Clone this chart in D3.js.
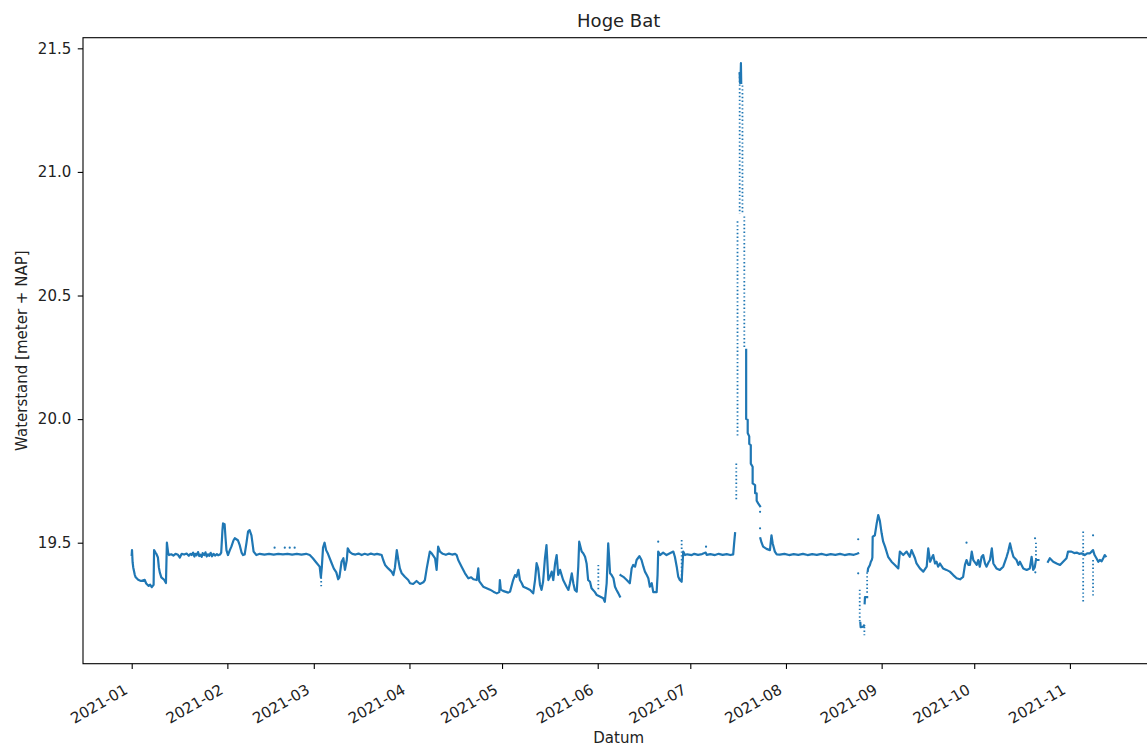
<!DOCTYPE html>
<html>
<head>
<meta charset="utf-8">
<script src="https://cdn.jsdelivr.net/npm/d3@7"></script>
<style>
  body { margin: 0; background: #fff; }
  svg { display: block; }
  text { font-family: "DejaVu Sans", sans-serif; fill: #222; }
</style>
</head>
<body>
<svg id="chart" width="1147" height="747"></svg>
<script>
// Waterstand Hoge Bat, 2021. Tijd in dagen sinds 2021-01-01 (UTC), stand in meter + NAP.
// null breekt de lijn (ontbrekende metingen).

const titel = "Hoge Bat";
const xLabel = "Datum";
const yLabel = "Waterstand [meter + NAP]";
const maandTicks = ["2021-01","2021-02","2021-03","2021-04","2021-05","2021-06","2021-07","2021-08","2021-09","2021-10","2021-11"];
const standTicks = [19.5, 20.0, 20.5, 21.0, 21.5];

const januari = [
  [0.0,19.45],[0.1,19.47],[0.3,19.42],[0.5,19.40],[1.0,19.37],[1.3,19.36],[2.1,19.35],[3.0,19.345],[4.2,19.35],
  [4.7,19.335],[5.5,19.325],[6.0,19.33],[6.5,19.32],[7.1,19.33],
  [7.25,19.47],[7.7,19.46],[8.0,19.455],[8.5,19.44],[8.8,19.40],[9.1,19.38],[9.6,19.36],[10.5,19.35],[11.1,19.337],
  [11.4,19.50],[11.8,19.46],[12.1,19.45],[12.8,19.453],[13.5,19.448],[14.2,19.455],[15.0,19.451],[15.6,19.44],
  [16.2,19.455],[17.0,19.452],[17.8,19.456],[18.5,19.447],[19.0,19.455],[19.4,19.45],[19.9,19.46],[20.3,19.444],
  [20.6,19.455],[21.0,19.449],[21.5,19.462],[21.9,19.446],[22.2,19.452],[22.7,19.443],[23.0,19.458],[23.5,19.45],
  [23.9,19.461],[24.3,19.444],[24.7,19.453],[25.1,19.447],[25.6,19.459],[26.0,19.445],[26.5,19.455],[27.0,19.448],
  [27.6,19.454],[28.0,19.449],[28.6,19.452]
];

const februari = [
  [29.0,19.46],[29.4,19.55],[29.6,19.578],[30.1,19.575],[30.4,19.52],[30.7,19.47],[31.2,19.45],[31.8,19.47],
  [32.3,19.484],[33.0,19.51],[33.4,19.518],[34.4,19.51],[35.0,19.49],[35.6,19.46],[36.1,19.45],[36.6,19.452],
  [37.2,19.50],[37.7,19.545],[38.2,19.551],[38.8,19.53],[39.5,19.464],[40.4,19.45],
  [41.5,19.455],[43,19.452],[44.5,19.455],[46,19.452],[47.5,19.455],[49,19.453],[50.5,19.455],[52,19.452],
  [53.5,19.455],[55,19.452],[56.5,19.455],[57.7,19.45]
];

const maart = [
  [58.7,19.437],[59.8,19.42],[60.9,19.403],[61.3,19.36],[61.6,19.40],[62.0,19.48],[62.5,19.50],[63.0,19.47],
  [63.6,19.455],[64.7,19.42],[65.5,19.395],[66.3,19.38],[66.9,19.352],[67.3,19.36],[68.0,19.423],[68.6,19.437],
  [69.1,19.39],[69.7,19.43],[70.0,19.477],[70.7,19.462],[71.5,19.455],[72.5,19.452],[73.5,19.456],[74.5,19.45],
  [75.5,19.455],[76.5,19.451],[77.5,19.456],[78.5,19.452],[79.5,19.455],[80.5,19.452],[81.0,19.45],
  [81.5,19.43],[82.1,19.41],[83.1,19.396],[84.2,19.383],[84.8,19.369],[85.3,19.40],[85.9,19.47],[86.4,19.43],
  [86.9,19.396],[87.5,19.376],[88.5,19.362],[89.6,19.349]
];

const april = [
  [90.2,19.336],[91.2,19.333],[92.3,19.345],[93.4,19.333],[94.5,19.34],[95.0,19.349],[95.6,19.396],[96.1,19.43],
  [96.6,19.464],[97.2,19.457],[98.3,19.437],[98.8,19.39],[99.3,19.484],[99.9,19.464],
  [100.8,19.455],[101.8,19.451],[102.8,19.456],[103.8,19.452],[104.8,19.455],[105.3,19.45],
  [105.8,19.43],[106.9,19.403],[108.0,19.376],[109.1,19.356],[110.0,19.36],[110.7,19.352],[111.8,19.349],
  [112.3,19.396],[112.6,19.345],[113.9,19.322],[115.0,19.316],[116.1,19.31],[117.2,19.302],[118.3,19.295],
  [119.1,19.30],[119.3,19.349]
];

const mei = [
  [119.6,19.31],[120.3,19.305],[121.0,19.302],[122.0,19.298],[122.6,19.302],[123.6,19.349],[124.2,19.369],
  [124.7,19.362],[125.3,19.39],[125.8,19.349],[126.4,19.336],[126.9,19.322],[128.0,19.316],[129.1,19.309],
  [130.1,19.295],[130.7,19.35],[131.2,19.417],[131.7,19.396],[132.3,19.329],[132.8,19.309],[133.3,19.342],
  [133.9,19.437],[134.4,19.49],[135.0,19.349],[135.5,19.362],[136.1,19.383],[136.6,19.349],[137.2,19.417],
  [137.7,19.45],[138.2,19.37],[138.8,19.39],[139.8,19.349],[140.9,19.322],[141.5,19.309],[142.0,19.336],
  [142.6,19.376],[143.1,19.336],[143.6,19.309],[144.2,19.302],[144.7,19.403],[145.0,19.504],[145.8,19.464],
  [146.3,19.457],[146.9,19.443],[147.4,19.416],[147.9,19.349],[148.5,19.342],[149.0,19.316],[150.1,19.30],
  [150.7,19.288]
];

const juni = [
  [151.7,19.282],[152.8,19.275],[153.3,19.261],[153.9,19.336],[154.4,19.497],[154.7,19.44],[155.0,19.376],
  [155.5,19.369],[156.1,19.356],[156.6,19.322],[157.1,19.309],[157.7,19.295],[158.2,19.282],[158.3,null],
  [158.4,19.369],[159.3,19.362],[160.4,19.349],[161.4,19.336],[162.0,19.396],[162.5,19.41],[163.1,19.403],
  [163.6,19.43],[164.5,19.446],[165.2,19.43],[165.8,19.403],[166.3,19.383],[166.9,19.369],[167.4,19.356],
  [167.9,19.322],[168.5,19.336],[169.0,19.30],[170.1,19.30],[170.4,19.37],[170.6,19.464],[171.2,19.45],
  [172.2,19.46],[173.3,19.45],[174.4,19.457],[175.5,19.464],[176.0,19.443],[176.6,19.403],[177.1,19.362],
  [177.6,19.349],[178.2,19.342],[178.7,19.464],[179.3,19.45]
];

const juli = [
  [180,19.453],[181.5,19.45],[182.3,19.455],[183.5,19.451],[184.8,19.454],[186.0,19.46],[186.3,19.451],
  [187.5,19.454],[189.0,19.45],[190.2,19.455],[191.5,19.451],[192.8,19.454],[194.0,19.45],[194.9,19.453],
  [195.2,19.497],[195.5,19.538],[195.6,null],
  // top van de piek
  [197.0,21.40],[197.1,21.36],[197.3,21.38],[197.4,21.44],[197.5,21.36],[197.55,null],
  // uitzakken na de piek
  [199.1,20.28],[199.1,20.0],[199.6,19.997],[199.6,19.944],[200.1,19.93],[200.1,19.90],[200.6,19.895],
  [200.6,19.82],[201.2,19.807],[201.2,19.74],[202.0,19.733],[202.0,19.70],[202.5,19.70],[202.5,19.67],
  [203.0,19.659],[203.6,19.648],[203.65,null],
  [203.7,19.518],[204.1,19.50],[204.6,19.484],[205.7,19.475],[206.8,19.47],[207.3,19.53],[207.7,19.497],
  [208.4,19.464],[209.0,19.453]
];

const augustus = [
  [210,19.452],[211.5,19.455],[213,19.45],[214.5,19.454],[216,19.451],[217.5,19.455],[219,19.45],[220.5,19.454],
  [222,19.451],[223.5,19.455],[225,19.45],[226.5,19.454],[228,19.451],[229.5,19.455],[231,19.45],[232.5,19.454],
  [234,19.451],[235.0,19.455],[235.4,19.457],[235.5,null],
  [236.1,19.175],[236.2,19.158],[237.0,19.16],[237.3,19.165],[237.35,null],
  [237.5,19.255],[237.6,19.28],[238.3,19.28],[238.35,null],
  [238.5,19.385],[238.6,19.396],[239.2,19.41],[239.5,19.423],[239.8,19.43],[240.0,19.44],[240.1,19.524],
  [240.8,19.53],[241.4,19.578],[241.9,19.612],[242.4,19.59],[243.0,19.538]
];

const september = [
  [243.5,19.504],[244.1,19.484],[245.1,19.443],[246.2,19.423],[247.3,19.41],[248.4,19.396],[248.9,19.464],
  [250.0,19.45],[251.1,19.464],[252.1,19.443],[252.7,19.47],[253.8,19.437],[254.3,19.416],[255.4,19.396],
  [256.5,19.383],[257.6,19.403],[258.1,19.477],[258.7,19.423],[259.2,19.437],[259.7,19.45],[260.3,19.416],
  [260.8,19.423],[261.3,19.403],[261.9,19.416],[262.9,19.396],[264.0,19.39],[265.1,19.383],[266.2,19.369],
  [267.3,19.356],[268.4,19.352],[269.4,19.362],[270.0,19.41],[270.5,19.43],[271.1,19.41],[271.6,19.41],
  [272.2,19.464]
];

const oktober = [
  [272.7,19.43],[273.8,19.41],[274.3,19.43],[274.8,19.403],[275.4,19.443],[275.9,19.45],[276.5,19.416],
  [277.0,19.403],[277.6,19.42],[278.1,19.43],[278.7,19.477],[279.2,19.416],[280.2,19.396],[281.3,19.39],
  [282.4,19.403],[283.5,19.443],[284.0,19.464],[284.6,19.497],[285.1,19.47],[285.7,19.443],[286.7,19.43],
  [287.3,19.41],[287.8,19.423],[288.9,19.396],[290.0,19.39],[291.0,19.396],[291.6,19.443],[292.1,19.39],
  [292.6,19.40],[293.0,19.43],[293.4,19.43],[293.8,19.43],[293.9,null],
  [296.9,19.423],[297.5,19.437],[298.6,19.423],[299.7,19.416],[300.8,19.41],[301.8,19.423],[302.9,19.437],
  [303.4,19.464]
];

const november = [
  [304.5,19.464],[305.4,19.458],[306.2,19.46],[307.0,19.455],[307.8,19.457],[308.3,19.455],[308.8,19.45],
  [309.6,19.457],[310.5,19.457],[311.5,19.47],[312.0,19.45],[312.6,19.437],[313.2,19.423],[313.7,19.43],
  [314.3,19.425],[314.8,19.437],[315.3,19.45],[315.6,19.445]
];

// Ijle meetreeksen: [dag, hoogste stand, laagste stand]
const ijleReeksen = [
  [61.4,19.36,19.317],[151.2,19.41,19.31],[178.2,19.511,19.342],
  [195.9,19.82,19.67],[196.3,20.80,19.93],[197.0,21.40,20.83],[197.9,21.35,20.83],[198.5,20.82,20.29],
  [235.9,19.31,19.18],[237.4,19.16,19.126],[238.3,19.38,19.29],
  [293.0,19.50,19.43],[308.3,19.545,19.255],[311.5,19.43,19.28]
];

// Losse metingen: [dag, stand]
const losseMetingen = [
  [46.3,19.48],[49.6,19.48],[51.2,19.48],[52.8,19.48],[170.6,19.504],[186.1,19.484],
  [203.6,19.625],[203.6,19.558],[235.4,19.514],[235.4,19.376],[270.5,19.50],[292.7,19.518],
  [292.8,19.38],[311.5,19.53]
];

const reeks = [].concat(januari, februari, maart, april, mei, juni, juli, augustus, september, oktober, november);

// ---------- opbouw ----------
const kleur = "#1f77b4";
const svg = d3.select("#chart");
const W = 1147, H = 747;
const m = { left: 83, top: 37.7, right: 1154.4, bottom: 663.7 };

const t0 = Date.UTC(2021, 0, 1);
const dag = d => new Date(t0 + d * 864e5);

const x = d3.scaleUtc()
  .domain([dag(-15.78), dag(331.38)])
  .range([m.left, m.right]);
const y = d3.scaleLinear()
  .domain([19.0105, 21.543])
  .range([m.bottom, m.top]);

svg.append("rect").attr("width", W).attr("height", H).attr("fill", "#fff");

svg.append("clipPath").attr("id", "plotvlak")
  .append("rect")
  .attr("x", m.left).attr("y", m.top)
  .attr("width", m.right - m.left).attr("height", m.bottom - m.top);

const plot = svg.append("g").attr("clip-path", "url(#plotvlak)");

const lijn = d3.line()
  .defined(p => p[1] !== null)
  .x(p => x(dag(p[0])))
  .y(p => y(p[1]))
  .curve(d3.curveLinear);

plot.append("path")
  .datum(reeks)
  .attr("d", lijn)
  .attr("fill", "none")
  .attr("stroke", kleur)
  .attr("stroke-width", 2.2)
  .attr("stroke-linejoin", "round")
  .attr("stroke-linecap", "square");

plot.selectAll("line.ijl")
  .data(ijleReeksen)
  .join("line")
  .attr("class", "ijl")
  .attr("x1", p => x(dag(p[0]))).attr("x2", p => x(dag(p[0])))
  .attr("y1", p => y(p[1])).attr("y2", p => y(p[2]))
  .attr("stroke", kleur)
  .attr("stroke-width", 1.8)
  .attr("stroke-dasharray", "1.4,2.4");

plot.selectAll("circle.los")
  .data(losseMetingen)
  .join("circle")
  .attr("class", "los")
  .attr("cx", p => x(dag(p[0])))
  .attr("cy", p => y(p[1]))
  .attr("r", 1.1)
  .attr("fill", kleur);

// assen
const parseMaand = d3.utcParse("%Y-%m");
const xAs = d3.axisBottom(x)
  .tickValues(maandTicks.map(parseMaand))
  .tickFormat(d3.utcFormat("%Y-%m"))
  .tickSize(5.25)
  .tickSizeOuter(0);

const gx = svg.append("g").attr("transform", `translate(0,${m.bottom})`).call(xAs);
gx.select(".domain").remove();
gx.selectAll(".tick line").attr("stroke", "#000").attr("stroke-width", 1.1);
gx.selectAll(".tick text")
  .attr("y", null).attr("dy", null)
  .attr("text-anchor", "end")
  .attr("transform", "translate(-3.5,29) rotate(-30)")
  .attr("font-size", 15)
  .attr("font-family", "DejaVu Sans, sans-serif")
  .attr("fill", "#222");

const yAs = d3.axisLeft(y)
  .tickValues(standTicks)
  .tickFormat(d3.format(".1f"))
  .tickSize(5.25)
  .tickPadding(6.5)
  .tickSizeOuter(0);

const gy = svg.append("g").attr("transform", `translate(${m.left},0)`).call(yAs);
gy.select(".domain").remove();
gy.selectAll(".tick line").attr("stroke", "#000").attr("stroke-width", 1.1);
gy.selectAll(".tick text")
  .attr("font-size", 15)
  .attr("font-family", "DejaVu Sans, sans-serif")
  .attr("fill", "#222");

// kader
svg.append("rect")
  .attr("x", m.left).attr("y", m.top)
  .attr("width", m.right - m.left).attr("height", m.bottom - m.top)
  .attr("fill", "none")
  .attr("stroke", "#000")
  .attr("stroke-width", 1.1);

// teksten
svg.append("text")
  .attr("x", (m.left + m.right) / 2).attr("y", 26.7)
  .attr("text-anchor", "middle")
  .attr("font-size", 18)
  .text(titel);

svg.append("text")
  .attr("x", (m.left + m.right) / 2).attr("y", 742.5)
  .attr("text-anchor", "middle")
  .attr("font-size", 15)
  .text(xLabel);

svg.append("text")
  .attr("transform", `translate(26.5,${(m.top + m.bottom) / 2}) rotate(-90)`)
  .attr("text-anchor", "middle")
  .attr("font-size", 15)
  .text(yLabel);
</script>
</body>
</html>
